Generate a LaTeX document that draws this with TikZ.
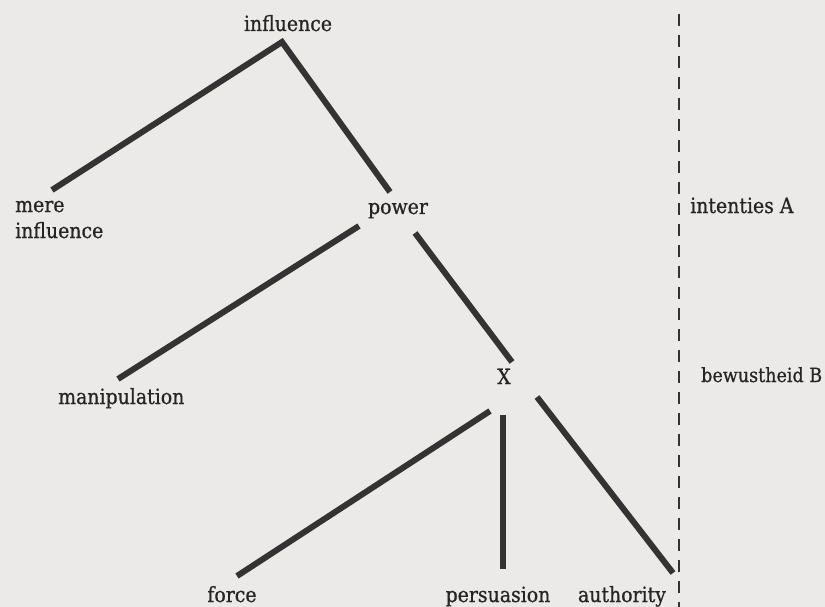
\documentclass[tikz,border=0pt]{standalone}
\usepackage{fontspec}
\setmainfont{DejaVu Serif}[FakeStretch=0.9,FakeBold=0.7]
\definecolor{paper}{RGB}{236,234,232}
\definecolor{ink}{RGB}{52,50,50}
\definecolor{txt}{RGB}{38,36,36}
\begin{document}
\begin{tikzpicture}[x=1pt,y=-1pt,
  branch/.style={draw=ink,line width=6pt,line cap=butt,line join=miter},
  divider/.style={draw=ink,line width=2.6pt,dash pattern=on 12pt off 9pt},
  lbl/.style={inner sep=0pt,text=txt,font=\fontsize{21}{24}\selectfont}]
\fill[paper] (0,0) rectangle (825,607);
\useasboundingbox (0,0) rectangle (825,607);
% labels
\node[lbl,anchor=base] (influence) at (288,31) {influence};
\node[lbl,anchor=base west] (mere) at (15,212) {mere};
\node[lbl,anchor=base west] (mereinf) at (15,238) {influence};
\node[lbl,anchor=base] (power) at (398,214) {power};
\node[lbl,anchor=base west] (intA) at (690,213) {intenties A};
\node[lbl,anchor=base] (X) at (504,384) {X};
\node[lbl,anchor=base west,font=\fontsize{19.5}{22}\selectfont] (bewB) at (701,382) {bewustheid B};
\node[lbl,anchor=base west] (manip) at (58,404) {manipulation};
\node[lbl,anchor=base] (force) at (232,602) {force};
\node[lbl,anchor=base] (pers) at (498,602) {persuasion};
\node[lbl,anchor=base] (auth) at (622,602) {authority};
% line endpoints
\coordinate (apex) at (282,42);
\coordinate (mereE) at (52,190);
\coordinate (powT) at (390,192);
\coordinate (powL) at (359,226);
\coordinate (manE) at (118,379);
\coordinate (powR) at (415,233);
\coordinate (xT) at (512,362);
\coordinate (xL) at (490,411);
\coordinate (forE) at (237,576);
\coordinate (xM) at (503,415);
\coordinate (perE) at (503,569);
\coordinate (xR) at (537,397);
\coordinate (autE) at (673,573);
\coordinate (dTop) at (679,14);
\coordinate (dBot) at (679,607);
% branches
\draw[branch] (mereE) -- (apex) -- (powT);
\draw[branch] (powL) -- (manE);
\draw[branch] (powR) -- (xT);
\draw[branch] (xL) -- (forE);
\draw[branch] (xM) -- (perE);
\draw[branch] (xR) -- (autE);
\draw[divider] (dTop) -- (dBot);
\end{tikzpicture}
\end{document}
